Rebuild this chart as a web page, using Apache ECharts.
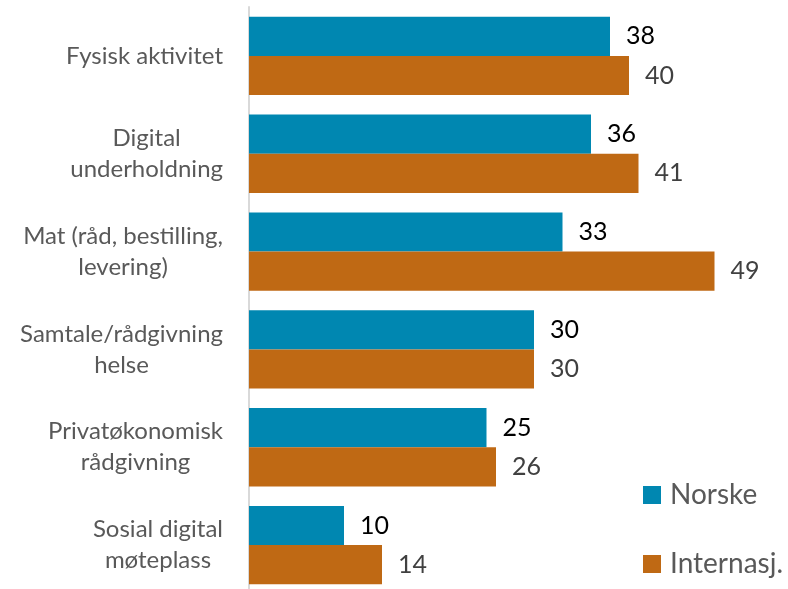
<!DOCTYPE html>
<html>
<head>
<meta charset="utf-8">
<script src="https://cdn.jsdelivr.net/npm/echarts@6/dist/echarts.min.js"></script>
<style>
  html, body { margin: 0; padding: 0; background: #ffffff; }
  #chart { width: 788px; height: 589px; }
</style>
</head>
<body>
<div id="chart"></div>
<script>
// Categories (top to bottom) and values per group
const categories = [
  'Fysisk aktivitet',
  'Digital\nunderholdning',
  'Mat (råd, bestilling,\nlevering)',
  'Samtale/rådgivning\nhelse',
  'Privatøkonomisk\nrådgivning',
  'Sosial digital\nmøteplass'
];
const seriesNames = ['Norske', 'Internasj.'];
const norske = [38, 36, 33, 30, 25, 10];
const internasj = [40, 41, 49, 30, 26, 14];

const FONT = 'Lato, "Open Sans", sans-serif';

const chart = echarts.init(document.getElementById('chart'), null, { renderer: 'canvas' });

chart.setOption({
  backgroundColor: '#ffffff',
  animation: false,
  textStyle: { fontFamily: FONT },
  grid: { left: 249, top: 7, width: 475, height: 587, containLabel: false, outerBoundsMode: 'none' },
  legend: {
    orient: 'vertical',
    left: 638,
    top: 476,
    itemWidth: 18,
    itemHeight: 18,
    itemGap: 41,
    icon: 'rect',
    data: seriesNames,
    textStyle: { color: '#595959', fontSize: 28, lineHeight: 26, fontFamily: FONT, padding: [0, 0, 0, 4] }
  },
  xAxis: {
    type: 'value',
    min: 0,
    max: 50,
    show: false,
    splitLine: { show: false }
  },
  yAxis: {
    type: 'category',
    inverse: true,
    data: categories,
    axisLine: { show: true, lineStyle: { color: '#d9d9d9', width: 2 } },
    axisTick: { show: false },
    axisLabel: {
      margin: 26,
      align: 'right',
      formatter: function (v) {
        return v.split('\n').map(function (s) { return '{c|' + s + '}'; }).join('\n');
      },
      rich: {
        c: { align: 'center', fontSize: 24, lineHeight: 31, color: '#595959', fontFamily: FONT }
      }
    }
  },
  series: [
    {
      name: seriesNames[0],
      type: 'bar',
      data: norske,
      barGap: '0%',
      barCategoryGap: '20%',
      itemStyle: { color: '#0087B1' },
      label: {
        show: true,
        position: 'right',
        distance: 16,
        color: '#000000',
        fontSize: 25,
        fontFamily: FONT
      }
    },
    {
      name: seriesNames[1],
      type: 'bar',
      data: internasj,
      barGap: '0%',
      barCategoryGap: '20%',
      itemStyle: { color: '#BF6914' },
      label: {
        show: true,
        position: 'right',
        distance: 16,
        color: '#404040',
        fontSize: 25,
        fontFamily: FONT
      }
    }
  ]
});
</script>
</body>
</html>
